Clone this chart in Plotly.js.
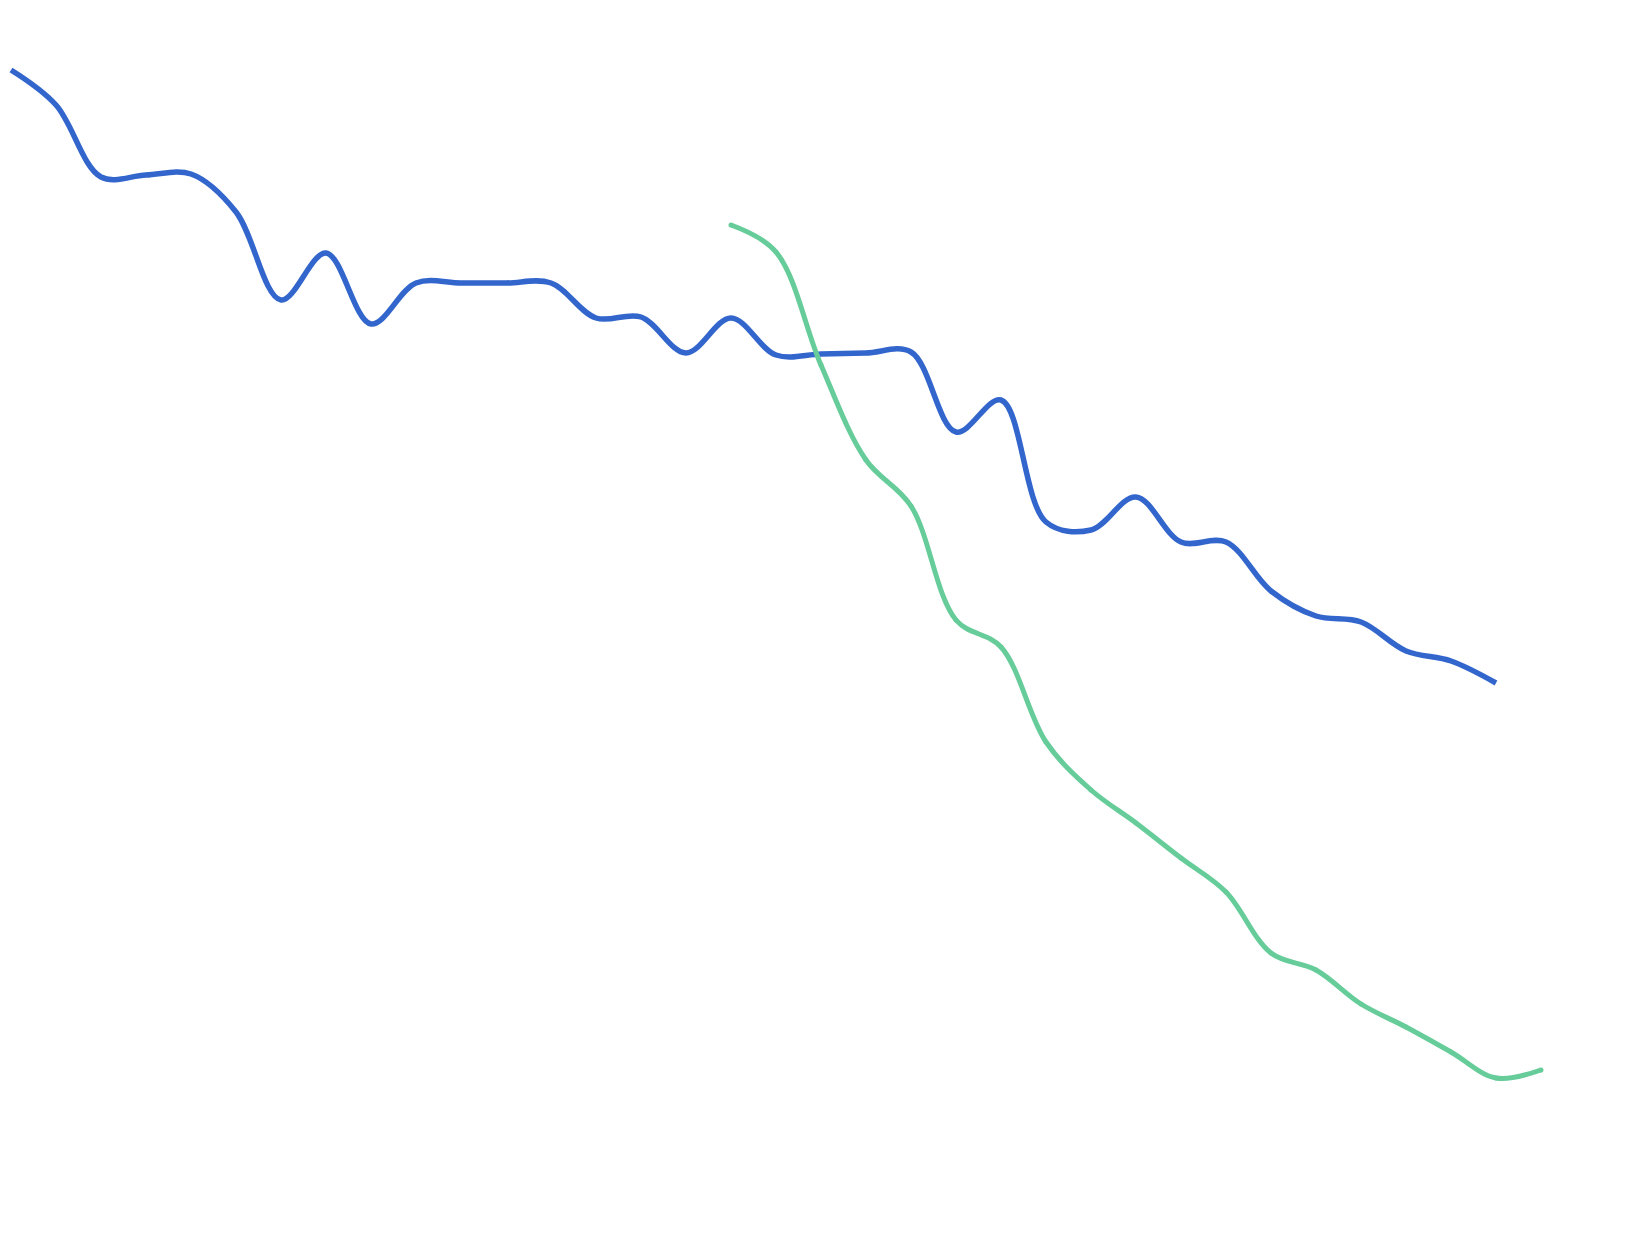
<!DOCTYPE html>
<html>
<head>
<meta charset="utf-8">
<script src="https://cdn.plot.ly/plotly-3.0.1.min.js"></script>
<style>
  html, body { margin: 0; padding: 0; background: #fff; }
</style>
</head>
<body>
<div id="chart" style="width:1634px;height:1255px;"></div>
<script>
const periods = [1, 2, 3, 4, 5, 6, 7, 8, 9, 10, 11, 12, 13, 14, 15, 16, 17, 18,
  19, 20, 21, 22, 23, 24, 25, 26, 27, 28, 29, 30, 31, 32, 33, 34, 35];

// blue series, periods 1-34
const blueValues = [118.5, 115.0, 107.8, 108.0, 108.1, 104.3, 95.5, 100.2, 93.1,
  97.2, 97.2, 97.2, 97.2, 93.7, 93.8, 90.2, 93.7, 90.0, 90.1, 90.2, 90.3, 82.3,
  85.5, 73.3, 72.5, 75.8, 71.3, 71.3, 66.4, 63.9, 63.3, 60.4, 59.4, 57.2];

// green series, periods 17-35
const greenValues = [103.0, 100.3, 89.0, 79.5, 74.9, 63.5, 60.8, 51.3, 46.5,
  43.2, 39.7, 36.3, 30.2, 28.5, 25.1, 22.8, 20.3, 17.7, 18.5];

var blueTrace = {
  x: periods.slice(0, blueValues.length),
  y: blueValues,
  type: "scatter",
  mode: "lines",
  line: { color: "#3366cc", width: 5.5, shape: "spline" },
  hoverinfo: "skip",
};

var greenTrace = {
  x: periods.slice(periods.length - greenValues.length),
  y: greenValues,
  type: "scatter",
  mode: "lines+markers",
  line: { color: "#66cc99", width: 5, shape: "spline" },
  marker: { color: "#66cc99", size: 5 },
  hoverinfo: "skip",
};

var layout = {
  width: 1634,
  height: 1255,
  margin: { l: 0, r: 0, t: 0, b: 0 },
  paper_bgcolor: "#ffffff",
  plot_bgcolor: "#ffffff",
  showlegend: false,
  xaxis: { visible: false, range: [0.7556, 37.067] },
  yaxis: { visible: false, range: [0, 125.5] },
};

Plotly.newPlot("chart", [blueTrace, greenTrace], layout, { staticPlot: true });
</script>
</body>
</html>
